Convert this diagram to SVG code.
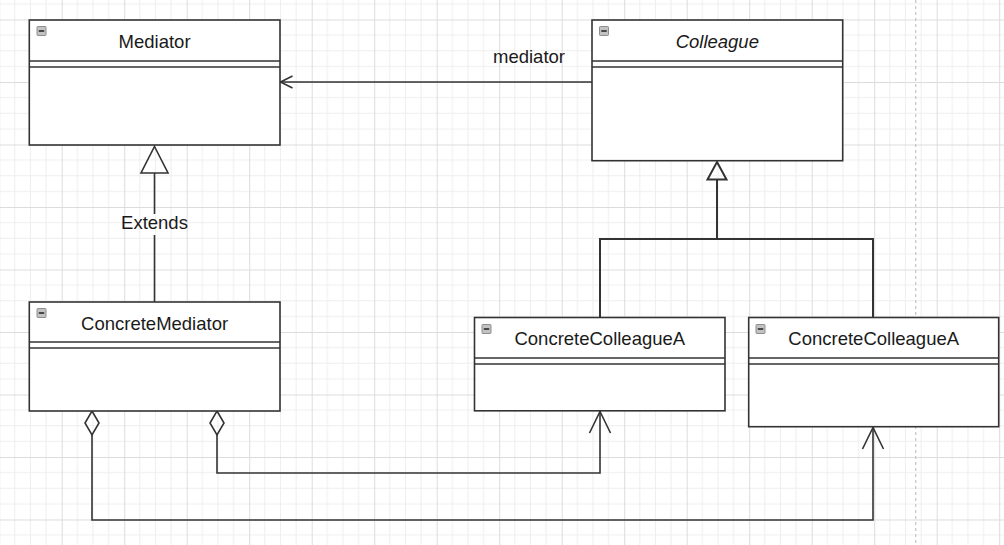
<svg xmlns="http://www.w3.org/2000/svg" width="1004" height="545" viewBox="0 0 1004 545">
  <style>
    .box { fill: #ffffff; stroke: #333333; stroke-width: 1.6; }
    .sep { stroke: #333333; stroke-width: 1.6; fill: none; }
    .title { font-family: "Liberation Sans", Arial, sans-serif; font-size: 18.5px; fill: #1a1a1a; text-anchor: middle; }
    .italic { font-style: italic; }
    .lbl { font-family: "Liberation Sans", Arial, sans-serif; font-size: 18.5px; fill: #1a1a1a; }
    .conn { fill: none; stroke: #333333; stroke-width: 1.6; }
    .icon { fill: #c2c2c2; stroke: #8e8e8e; stroke-width: 1; }
    .iconbar { stroke: #3a3a3a; stroke-width: 1.8; }
  </style>
  <defs>
    <pattern id="grid" width="62.5" height="62.5" patternUnits="userSpaceOnUse" x="-0.8" y="19.5">
      <path d="M15.625 0V62.5M31.25 0V62.5M46.875 0V62.5M0 15.625H62.5M0 31.25H62.5M0 46.875H62.5" stroke="#eeeeee" stroke-width="1" fill="none"/>
      <path d="M0.5 0V62.5M0 0.5H62.5" stroke="#dcdcdc" stroke-width="1" fill="none"/>
    </pattern>
    <g id="minus">
      <rect class="icon" x="0" y="0" width="9" height="9" rx="0.8"/>
      <line class="iconbar" x1="1.8" y1="4.5" x2="7.2" y2="4.5"/>
    </g>
  </defs>

  <rect x="0" y="0" width="1004" height="545" fill="#ffffff"/>
  <rect x="0" y="0" width="1004" height="545" fill="url(#grid)"/>
  <line x1="915.7" y1="0" x2="915.7" y2="545" stroke="#c4c4c4" stroke-width="1.2" stroke-dasharray="3 3"/>

  <g id="connectors">
    <!-- Colleague -> Mediator association -->
    <line class="conn" x1="592" y1="82" x2="280" y2="82"/>
    <polyline class="conn" points="292.5,76 280.5,82 292.5,88"/>
    <text class="lbl" x="493" y="62.5">mediator</text>

    <!-- ConcreteMediator extends Mediator -->
    <line class="conn" x1="154.5" y1="173" x2="154.5" y2="214"/>
    <line class="conn" x1="154.5" y1="235" x2="154.5" y2="302"/>
    <polygon class="conn" points="154.5,146.5 168,173 141,173" fill="#ffffff"/>
    <text class="lbl" x="154.5" y="228.5" text-anchor="middle">Extends</text>

    <!-- Colleague generalization -->
    <polyline class="conn" points="600,318 600,239 873,239 873,318" style="stroke-width:2"/>
    <line class="conn" x1="717" y1="179.5" x2="717" y2="239" style="stroke-width:2"/>
    <polygon class="conn" points="717,162 726.5,179.5 707.5,179.5" fill="#ffffff" style="stroke-width:2"/>

    <!-- Aggregations -->
    <polyline class="conn" points="217,435 217,473 600,473 600,411"/>
    <polygon class="conn" points="217,411 224,423 217,435 210,423" fill="#ffffff"/>
    <polyline class="conn" points="589.5,433 600,411.5 610.5,433"/>

    <polyline class="conn" points="92,435 92,520 873,520 873,427"/>
    <polygon class="conn" points="92,411 99,423 92,435 85,423" fill="#ffffff"/>
    <polyline class="conn" points="862.5,449 873,427.5 883.5,449"/>
  </g>

  <g id="node-mediator">
    <rect class="box" x="29.3" y="20" width="250.7" height="125"/>
    <line class="sep" x1="29.3" y1="61" x2="280" y2="61"/>
    <line class="sep" x1="29.3" y1="67" x2="280" y2="67"/>
    <use href="#minus" x="37" y="26.5"/>
    <text class="title" x="154.6" y="47.5">Mediator</text>
  </g>

  <g id="node-colleague">
    <rect class="box" x="592" y="20" width="250.7" height="140.7"/>
    <line class="sep" x1="592" y1="61" x2="842.7" y2="61"/>
    <line class="sep" x1="592" y1="67" x2="842.7" y2="67"/>
    <use href="#minus" x="599.5" y="26.5"/>
    <text class="title italic" x="717.3" y="47.5">Colleague</text>
  </g>

  <g id="node-concretemediator">
    <rect class="box" x="29.3" y="302" width="250.7" height="109"/>
    <line class="sep" x1="29.3" y1="342" x2="280" y2="342"/>
    <line class="sep" x1="29.3" y1="348" x2="280" y2="348"/>
    <use href="#minus" x="37" y="308.5"/>
    <text class="title" x="154.6" y="329.5">ConcreteMediator</text>
  </g>

  <g id="node-concretecolleaguea-1">
    <rect class="box" x="474.5" y="317.5" width="250.5" height="93.3"/>
    <line class="sep" x1="474.5" y1="358" x2="725" y2="358"/>
    <line class="sep" x1="474.5" y1="364" x2="725" y2="364"/>
    <use href="#minus" x="482" y="324.5"/>
    <text class="title" x="599.8" y="345">ConcreteColleagueA</text>
  </g>

  <g id="node-concretecolleaguea-2">
    <rect class="box" x="748.7" y="317.5" width="250" height="109.2"/>
    <line class="sep" x1="748.7" y1="358" x2="998.7" y2="358"/>
    <line class="sep" x1="748.7" y1="364" x2="998.7" y2="364"/>
    <use href="#minus" x="756" y="324.5"/>
    <text class="title" x="873.7" y="345">ConcreteColleagueA</text>
  </g>
</svg>
